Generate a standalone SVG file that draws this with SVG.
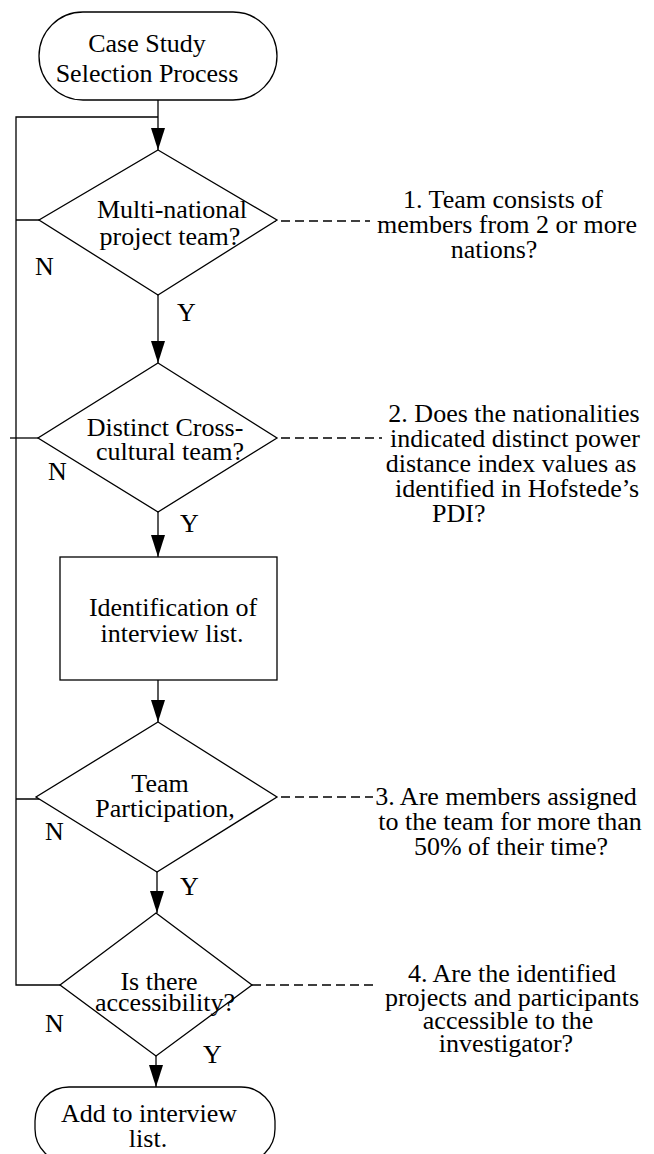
<svg xmlns="http://www.w3.org/2000/svg" width="654" height="1154" viewBox="0 0 654 1154">
<style>
.t{font-family:"Liberation Serif","Times New Roman",serif;font-size:26px;fill:#000}
.m{text-anchor:middle}
.s{fill:#fff;stroke:#000;stroke-width:1.3}
.c{fill:none;stroke:#000;stroke-width:1.3}
.d{fill:none;stroke:#000;stroke-width:1.5;stroke-dasharray:9 5}
.a{fill:#000}
</style>
<rect width="654" height="1154" fill="#fff"/>

<g id="connectors">
<line class="c" x1="158" y1="100" x2="158" y2="150"/>
<path class="a" d="M151,128 L165,128 L158,150 z"/>
<line class="c" x1="158" y1="295" x2="158" y2="363"/>
<path class="a" d="M151,341 L165,341 L158,363 z"/>
<line class="c" x1="158" y1="512" x2="158" y2="557"/>
<path class="a" d="M151,535 L165,535 L158,557 z"/>
<line class="c" x1="158" y1="680" x2="158" y2="722"/>
<path class="a" d="M151,700 L165,700 L158,722 z"/>
<line class="c" x1="157" y1="872" x2="157" y2="913"/>
<path class="a" d="M150,891 L164,891 L157,913 z"/>
<line class="c" x1="156" y1="1056" x2="156" y2="1087"/>
<path class="a" d="M149,1065 L163,1065 L156,1087 z"/>
<polyline class="c" points="158,117 16,117 16,985 60,985"/>
<line class="c" x1="16" y1="220" x2="63" y2="220"/>
<line class="c" x1="10" y1="438" x2="38" y2="438" stroke-width="2"/>
<line class="c" x1="16" y1="799" x2="62" y2="799"/>
<line class="d" x1="253" y1="221" x2="370" y2="221"/>
<line class="d" x1="253" y1="438" x2="382" y2="438"/>
<line class="d" x1="253" y1="797" x2="373" y2="797"/>
<line class="d" x1="252" y1="985" x2="378" y2="985"/>
<text class="t" x="35" y="275">N</text>
<text class="t" x="177" y="321">Y</text>
<text class="t" x="48" y="480">N</text>
<text class="t" x="180" y="532">Y</text>
<text class="t" x="45" y="840">N</text>
<text class="t" x="180" y="895">Y</text>
<text class="t" x="45" y="1032">N</text>
<text class="t" x="203" y="1063">Y</text>
</g>

<g id="start">
<rect class="s" x="39" y="12" width="238" height="88" rx="44"/>
<text class="t m" x="147" y="52">Case Study</text>
<text class="t m" x="147" y="82">Selection Process</text>
</g>

<g id="multinational">
<polygon class="s" points="158,150 277,220 158,295 39,220"/>
<text class="t m" x="172" y="218">Multi-national</text>
<text class="t m" x="170" y="245">project team?</text>
</g>

<g id="crosscultural">
<polygon class="s" points="158,363 277,438 158,512 38,438"/>
<text class="t m" x="165" y="436">Distinct Cross-</text>
<text class="t m" x="170" y="460">cultural team?</text>
</g>

<g id="identification">
<rect class="s" x="60" y="557" width="217" height="123"/>
<text class="t m" x="173" y="616">Identification of</text>
<text class="t m" x="172" y="642">interview list.</text>
</g>

<g id="participation">
<polygon class="s" points="158,722 277,797 157,872 36,797"/>
<text class="t m" x="160" y="792">Team</text>
<text class="t m" x="165" y="817">Participation,</text>
</g>

<g id="accessibility">
<polygon class="s" points="156,913 252,985 156,1056 60,985"/>
<text class="t m" x="159" y="990">Is there</text>
<text class="t m" x="165" y="1011">accessibility?</text>
</g>

<g id="end">
<rect class="s" x="35" y="1087" width="240" height="76" rx="34"/>
<text class="t m" x="149" y="1122">Add to interview</text>
<text class="t m" x="148" y="1147">list.</text>
</g>

<g id="note1">
<text class="t m" x="503" y="208">1. Team consists of</text>
<text class="t m" x="507" y="233">members from 2 or more</text>
<text class="t m" x="494" y="258">nations?</text>
</g>

<g id="note2">
<text class="t m" x="514" y="422">2. Does the nationalities</text>
<text class="t m" x="515" y="447">indicated distinct power</text>
<text class="t m" x="511" y="472">distance index values as</text>
<text class="t m" x="517" y="497">identified in Hofstede’s</text>
<text class="t" x="432" y="522">PDI?</text>
</g>

<g id="note3">
<text class="t m" x="506" y="805">3. Are members assigned</text>
<text class="t m" x="510" y="830">to the team for more than</text>
<text class="t m" x="511" y="855">50% of their time?</text>
</g>

<g id="note4">
<text class="t m" x="512" y="982">4. Are the identified</text>
<text class="t m" x="512" y="1006">projects and participants</text>
<text class="t m" x="508" y="1029">accessible to the</text>
<text class="t m" x="506" y="1052">investigator?</text>
</g>
</svg>
